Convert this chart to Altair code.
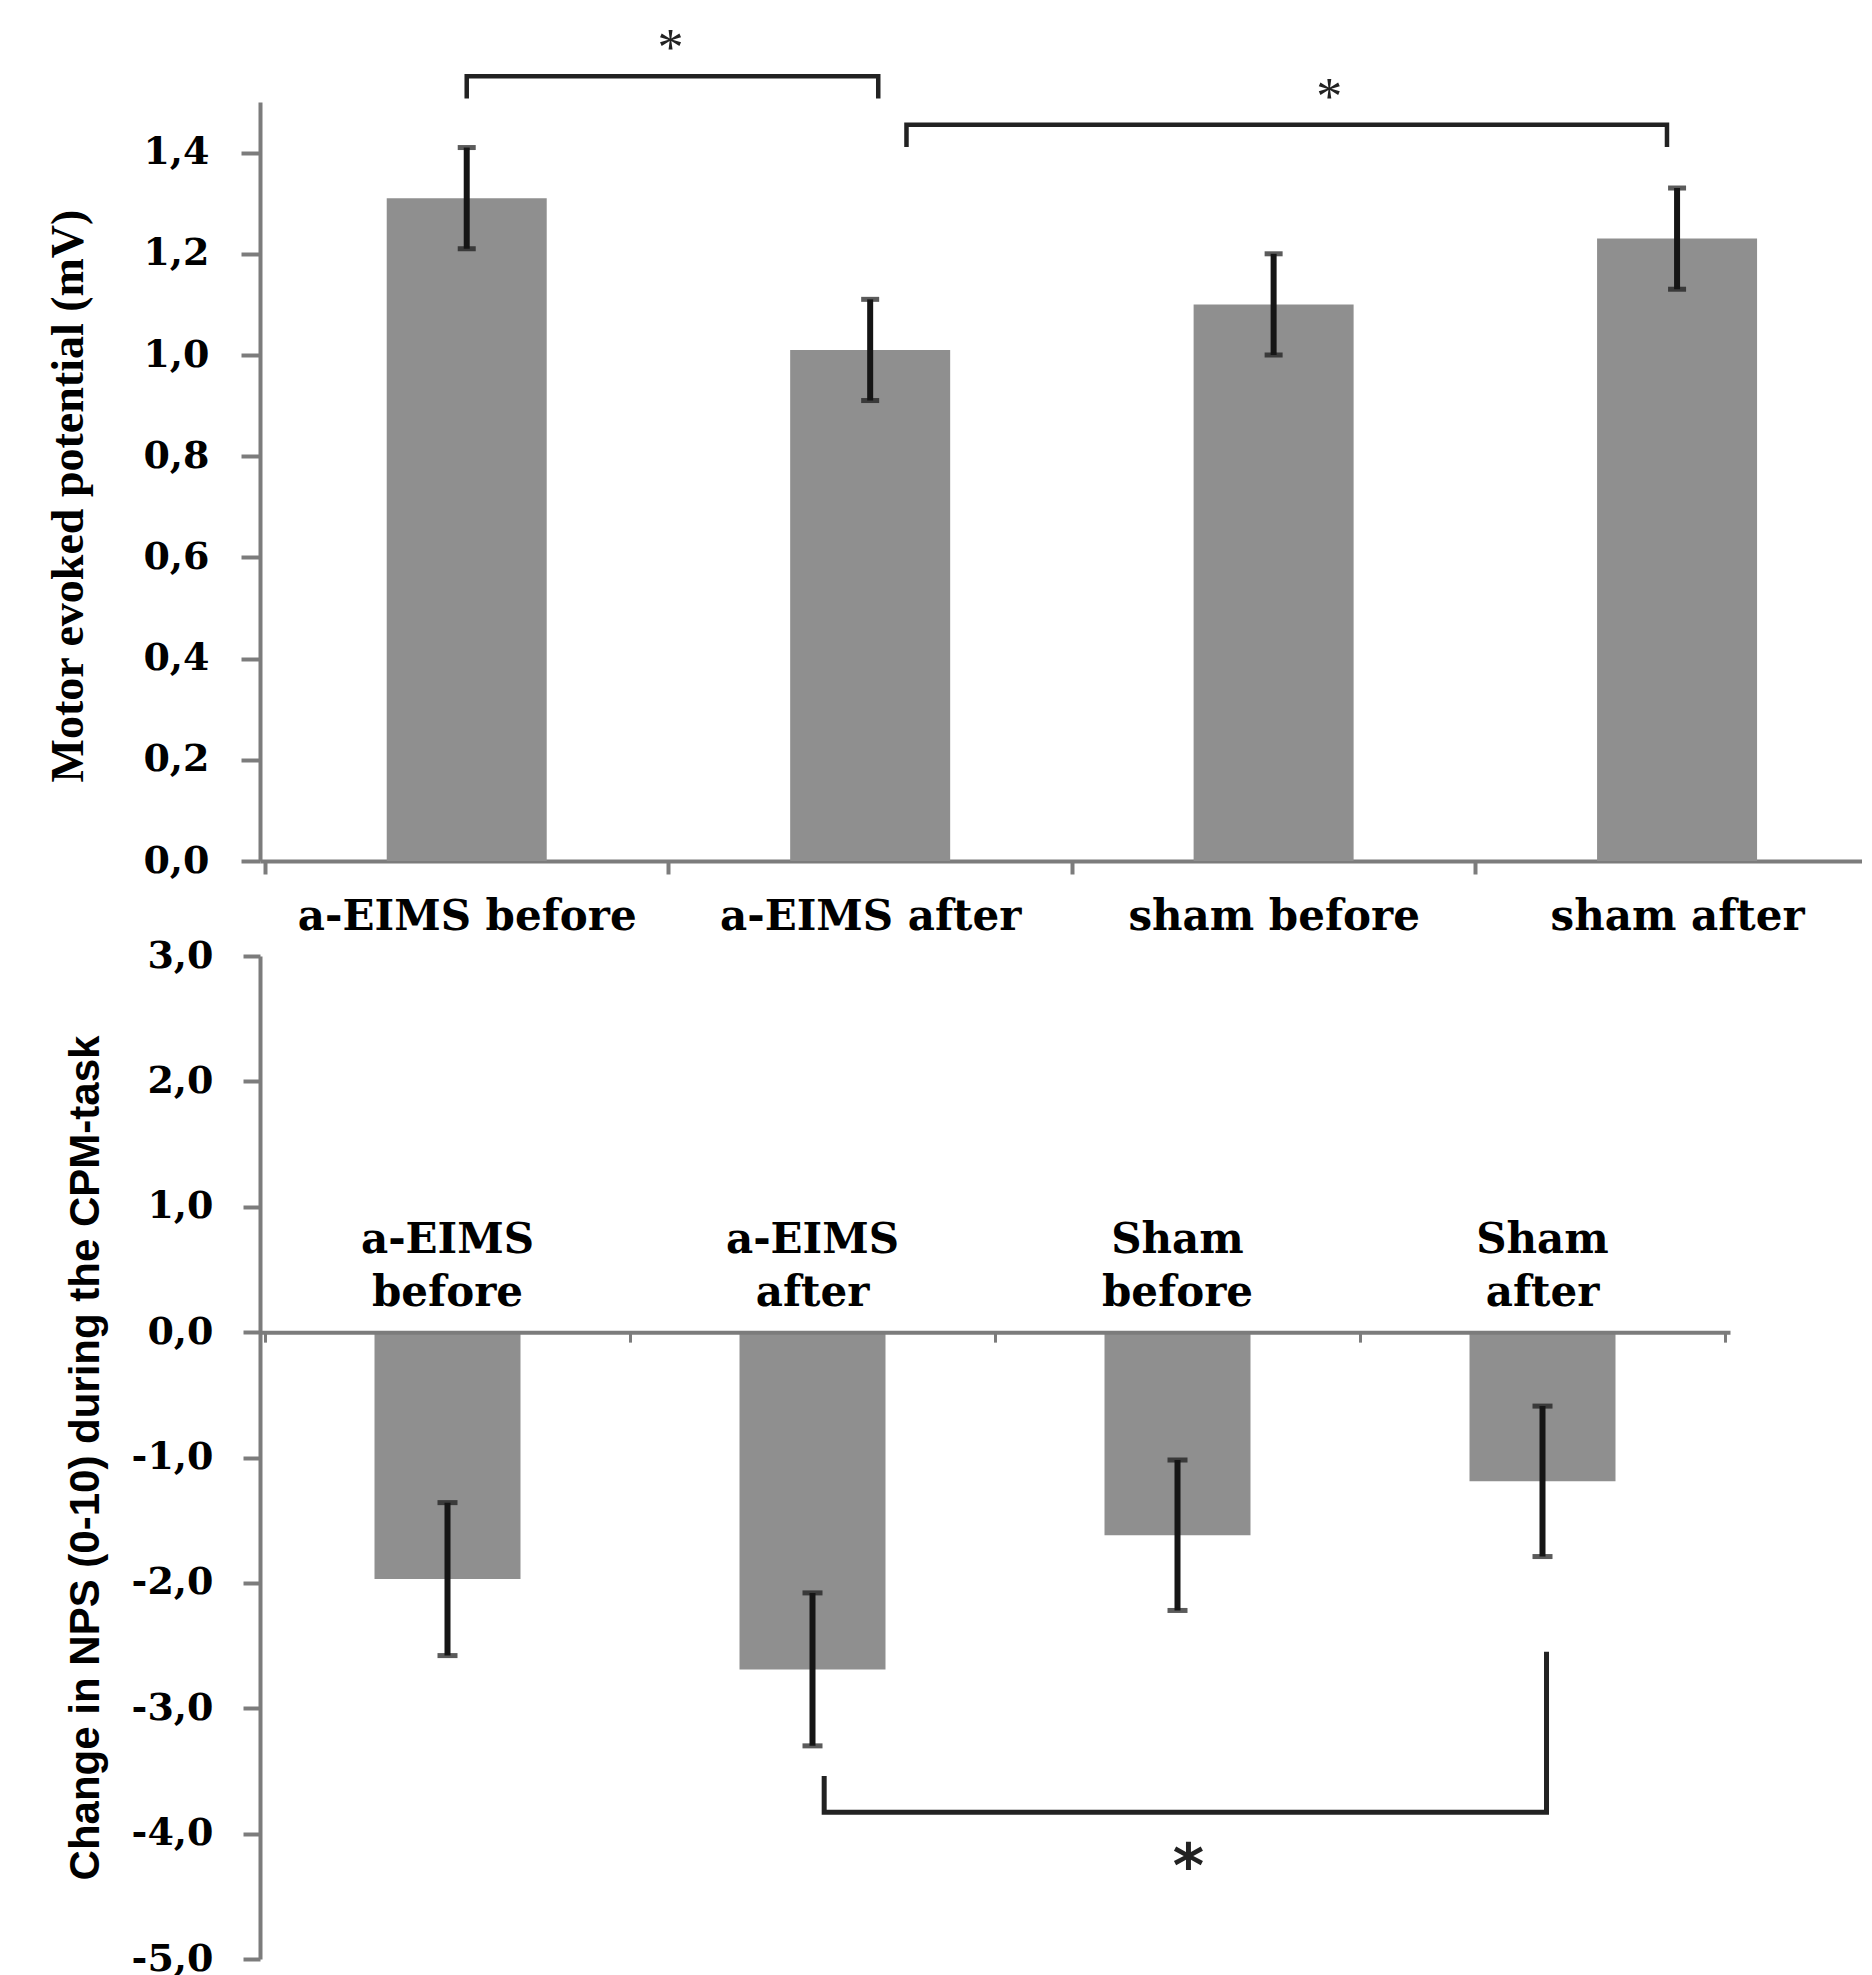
import altair as alt
import pandas as pd

# ---------------- data ----------------
mep_groups = ["a-EIMS before", "a-EIMS after", "sham before", "sham after"]
mep_mean = [1.31, 1.01, 1.10, 1.23]
mep_err = [0.10, 0.10, 0.10, 0.10]
mep_ticks = [0.0, 0.2, 0.4, 0.6, 0.8, 1.0, 1.2, 1.4]

nps_groups = ["a-EIMS before", "a-EIMS after", "Sham before", "Sham after"]
nps_mean = [-1.97, -2.69, -1.62, -1.19]
nps_err = [0.61, 0.61, 0.60, 0.60]
nps_ticks = [-5.0, -4.0, -3.0, -2.0, -1.0, 0.0, 1.0, 2.0, 3.0]

# significance brackets (x in group index units, y in data units)
mep_sig_left = [0.0, 1.09]
mep_sig_right = [1.02, 2.975]
mep_sig_level = [1.551, 1.455]
mep_sig_end_left = [1.507, 1.411]
mep_sig_end_right = [1.507, 1.411]
mep_star_x = [0.505, 2.138]
mep_star_y = [1.626, 1.53]

nps_sig_left = [1.032]
nps_sig_right = [3.011]
nps_sig_level = [-3.83]
nps_sig_end_left = [-3.54]
nps_sig_end_right = [-2.55]
nps_star_x = [2.03]
nps_star_y = [-4.14]

# ---------------- styling ----------------
BAR = "#8f8f8f"
AXIS = "#7c7c7c"
INK = "#151515"
TOP_W, TOP_H = 1602, 759
BOT_W, BOT_H = 1470, 1003
TOP_XMAX = 3.446
NO_FRAME = alt.ViewBackground(strokeOpacity=0, strokeWidth=0, fill="white")


def bars_df(groups, mean, err):
    return pd.DataFrame({
        "idx": list(range(len(groups))),
        "group": groups,
        "mean": mean,
        "lo": [m - e for m, e in zip(mean, err)],
        "hi": [m + e for m, e in zip(mean, err)],
    })


def bracket_df(left, right, level, end_l, end_r):
    rows = []
    for k in range(len(left)):
        pts = [(left[k], end_l[k]), (left[k], level[k]),
               (right[k], level[k]), (right[k], end_r[k])]
        for o, (bx, by) in enumerate(pts):
            rows.append({"bid": k, "o": o, "bx": bx, "by": by})
    return pd.DataFrame(rows)


def fmt_expr():
    return "replace(replace(format(datum.value, '.1f'), '.', ','), '\u2212', '-')"


# ---------------- top panel ----------------
mep = bars_df(mep_groups, mep_mean, mep_err)
mep_br = bracket_df(mep_sig_left, mep_sig_right, mep_sig_level,
                    mep_sig_end_left, mep_sig_end_right)
mep_st = pd.DataFrame({"sx": mep_star_x, "sy": mep_star_y, "t": ["*"] * len(mep_star_x)})

top_tick_vals = [v / 2 for v in range(-1, 8) if v / 2 <= TOP_XMAX]
names_js = "[" + ",".join("'" + g + "'" for g in mep_groups) + "]"

top_x_axis = alt.Axis(
    values=top_tick_vals,
    labelExpr=f"datum.value % 1 === 0 ? {names_js}[datum.value] : ''",
    title=None, grid=False,
    domainColor=AXIS, domainWidth=4, tickColor=AXIS, tickWidth=4, tickSize=13,
    tickOpacity={"condition": {"test": "datum.value % 1 !== 0", "value": 1}, "value": 0},
    labelFont="DejaVu Serif", labelFontWeight="bold", labelFontSize=42, labelColor="#000",
    labelPadding=22, labelOverlap=False, labelFlush=False, labelBound=False, labelLimit=0,
)
top_y_axis = alt.Axis(
    values=mep_ticks, labelExpr=fmt_expr(),
    title="Motor evoked potential (mV)", grid=False,
    titleFont="Liberation Serif", titleFontSize=46, titleFontWeight="bold",
    titleColor="#000", titlePadding=50, titleY=TOP_H / 2 + 14,
    domainColor=AXIS, domainWidth=4, tickColor=AXIS, tickWidth=4, tickSize=19,
    labelFont="DejaVu Serif", labelFontWeight="bold", labelFontSize=38, labelColor="#000",
    labelPadding=32,
)
top_xs = alt.Scale(domain=[-0.5, TOP_XMAX], nice=False, zero=False)
top_ys = alt.Scale(domain=[0, 1.5], nice=False)


def tx(f):
    return alt.X(f"{f}:Q", scale=top_xs, axis=top_x_axis)


def ty(f):
    return alt.Y(f"{f}:Q", scale=top_ys, axis=top_y_axis)


top_bars = alt.Chart(mep).mark_bar(color=BAR, size=160).encode(x=tx("idx"), y=ty("mean"))
top_err = alt.Chart(mep).mark_rule(color=INK, strokeWidth=6).encode(
    x=tx("idx"), y=ty("lo"), y2="hi:Q")
top_cap_lo = alt.Chart(mep).mark_tick(color=INK, orient="horizontal", size=18, thickness=5).encode(
    x=tx("idx"), y=ty("lo"))
top_cap_hi = alt.Chart(mep).mark_tick(color=INK, orient="horizontal", size=18, thickness=5).encode(
    x=tx("idx"), y=ty("hi"))
top_br = alt.Chart(mep_br).mark_line(color="#222", strokeWidth=4.5).encode(
    x=tx("bx"), y=ty("by"), detail="bid:N", order="o:Q")
top_star = alt.Chart(mep_st).mark_text(
    font="Liberation Serif", fontSize=52, color="#222", baseline="alphabetic", dy=27
).encode(x=tx("sx"), y=ty("sy"), text="t:N")

top = alt.layer(top_bars, top_err, top_cap_lo, top_cap_hi, top_br, top_star).properties(
    width=TOP_W, height=TOP_H, view=NO_FRAME)

# ---------------- bottom panel ----------------
nps = bars_df(nps_groups, nps_mean, nps_err)
nps_br = bracket_df(nps_sig_left, nps_sig_right, nps_sig_level,
                    nps_sig_end_left, nps_sig_end_right)
nps_st = pd.DataFrame({"sx": nps_star_x, "sy": nps_star_y, "t": ["*"] * len(nps_star_x)})

ymin, ymax = min(nps_ticks), max(nps_ticks)
zero_offset = -BOT_H * (0 - ymin) / (ymax - ymin)

bot_x_axis = alt.Axis(
    values=[v / 2 for v in range(-1, 8)], labels=False, title=None, grid=False,
    domainColor=AXIS, domainWidth=4, tickColor=AXIS, tickWidth=3, tickSize=10,
    tickOpacity={"condition": {"test": "datum.value % 1 !== 0", "value": 1}, "value": 0},
    offset=zero_offset, zindex=1,
)
bot_y_axis = alt.Axis(
    values=nps_ticks, labelExpr=fmt_expr(),
    title="Change in NPS (0-10)  during  the CPM-task", grid=False,
    titleFont="Liberation Sans", titleFontSize=42,
    titleFontWeight="bold", titleColor="#000", titlePadding=24,
    domainColor=AXIS, domainWidth=4, tickColor=AXIS, tickWidth=4, tickSize=17,
    labelFont="DejaVu Serif", labelFontWeight="bold", labelFontSize=38, labelColor="#000",
    labelPadding=30,
)
bot_xs = alt.Scale(domain=[-0.5, 3.5], nice=False, zero=False)
bot_ys = alt.Scale(domain=[ymin, ymax], nice=False)


def bx_(f):
    return alt.X(f"{f}:Q", scale=bot_xs, axis=bot_x_axis)


def by_(f):
    return alt.Y(f"{f}:Q", scale=bot_ys, axis=bot_y_axis)


bot_bars = alt.Chart(nps).mark_bar(color=BAR, size=146).encode(x=bx_("idx"), y=by_("mean"))
bot_err = alt.Chart(nps).mark_rule(color=INK, strokeWidth=6).encode(
    x=bx_("idx"), y=by_("lo"), y2="hi:Q")
bot_cap_lo = alt.Chart(nps).mark_tick(color=INK, orient="horizontal", size=20, thickness=5).encode(
    x=bx_("idx"), y=by_("lo"))
bot_cap_hi = alt.Chart(nps).mark_tick(color=INK, orient="horizontal", size=20, thickness=5).encode(
    x=bx_("idx"), y=by_("hi"))
bot_labels = alt.Chart(nps).mark_text(
    font="DejaVu Serif", fontWeight="bold", fontSize=42, color="#000",
    lineBreak=" ", lineHeight=53, baseline="bottom", dy=-70,
).encode(x=bx_("idx"), y=alt.Y(datum=0, scale=bot_ys, axis=bot_y_axis), text="group:N")
bot_br = alt.Chart(nps_br).mark_line(color="#222", strokeWidth=5).encode(
    x=bx_("bx"), y=by_("by"), detail="bid:N", order="o:Q")
bot_star = alt.Chart(nps_st).mark_text(
    font="DejaVu Sans", fontWeight="bold", fontSize=60, color="#222",
    baseline="alphabetic", dy=36,
).encode(x=bx_("sx"), y=by_("sy"), text="t:N")

bottom = alt.layer(bot_bars, bot_err, bot_cap_lo, bot_cap_hi, bot_labels, bot_br, bot_star).properties(
    width=BOT_W, height=BOT_H, view=NO_FRAME)

chart = alt.vconcat(top, bottom, spacing=0).properties(
    padding={"left": 37, "top": 15, "right": 0, "bottom": 0}
).configure_view(strokeWidth=0, strokeOpacity=0).configure(background="white")

chart.save("out.html", embed_options={"renderer": "svg", "actions": False})
